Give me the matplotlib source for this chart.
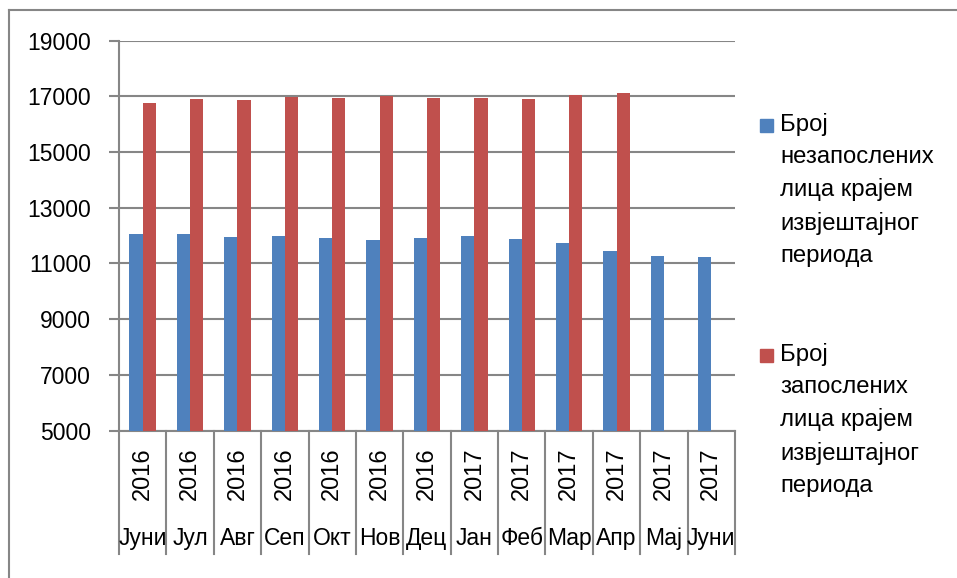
import matplotlib.pyplot as plt
from matplotlib.patches import Rectangle
from matplotlib.lines import Line2D
import matplotlib.transforms as mtransforms

plt.rcParams['font.family'] = ['Liberation Sans', 'DejaVu Sans']

# podaci
mjeseci = ['Јуни', 'Јул', 'Авг', 'Сеп', 'Окт', 'Нов', 'Дец', 'Јан', 'Феб', 'Мар', 'Апр', 'Мај', 'Јуни']
godine = ['2016', '2016', '2016', '2016', '2016', '2016', '2016',
          '2017', '2017', '2017', '2017', '2017', '2017']
nezaposleni = [12070, 12040, 11960, 11970, 11925, 11830, 11900,
               11985, 11890, 11735, 11445, 11275, 11215]
zaposleni = [16770, 16890, 16855, 16975, 16950, 17025, 16930,
             16930, 16915, 17060, 17110]
legenda = ['Број\nнезапослених\nлица крајем\nизвјештајног\nпериода',
           'Број\nзапослених\nлица крајем\nизвјештајног\nпериода']
boje = ['#4F81BD', '#C0504D']
siva = '#868686'
fs = 16.5

fig = plt.figure(figsize=(9.57, 5.78), dpi=100)
ax = fig.add_axes([119/957, 1 - 430.5/578, 616/957, 390/578])

n = len(mjeseci)
w = 0.28
x = list(range(n))
ax.bar([i - w/2 for i in x], nezaposleni, width=w, color=boje[0], zorder=3)
ax.bar([i + w/2 for i in range(len(zaposleni))], zaposleni, width=w, color=boje[1], zorder=3)

ax.set_xlim(-0.5, n - 0.5)
ax.set_ylim(5000, 19000)
ax.set_yticks(range(5000, 19001, 2000))
ax.yaxis.grid(True, color=siva, linewidth=1.5, zorder=0)
ax.set_xticks([])
ax.tick_params(axis='y', length=7, width=1.5, color=siva, pad=13, labelsize=fs)

for s in ['top', 'right']:
    ax.spines[s].set_visible(False)
for s in ['left', 'bottom']:
    ax.spines[s].set_color(siva)
    ax.spines[s].set_linewidth(1.5)

# dvostepena kategorijska osa
trans = mtransforms.blended_transform_factory(ax.transData, ax.transAxes)
for i in range(n):
    ax.text(i, -0.111, godine[i], rotation=90, ha='center', va='center',
            fontsize=fs + 0.5, transform=trans)
    ax.text(i, -0.276, mjeseci[i], ha='center', va='center',
            fontsize=fs, transform=trans)
for k in range(n + 1):
    ax.add_line(Line2D([k - 0.5, k - 0.5], [0, -0.317], transform=trans,
                       color=siva, linewidth=1.5, clip_on=False))

# legenda
ys = [126, 356]
for j in range(2):
    fig.patches.append(Rectangle((760/957, 1 - (ys[j] + 6)/578), 13/957, 13/578,
                                 transform=fig.transFigure, color=boje[j]))
    fig.text(780/957, 1 - (ys[j] - 13)/578, legenda[j], fontsize=17.2,
             va='top', ha='left', linespacing=1.58)

# okvir
fig.add_artist(Line2D([9/957, 9/957], [0, 1 - 10/578], transform=fig.transFigure,
                      color=siva, linewidth=1.5))
fig.add_artist(Line2D([9/957, 1], [1 - 10/578, 1 - 10/578], transform=fig.transFigure,
                      color=siva, linewidth=1.5))

fig.savefig('out.png', dpi=100)
